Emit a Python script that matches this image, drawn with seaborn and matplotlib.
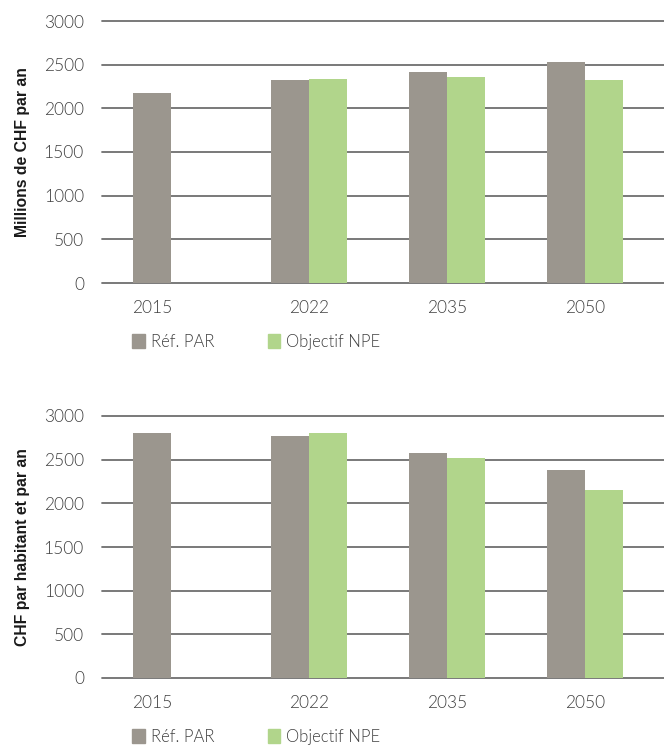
import pandas as pd
import seaborn as sns
import matplotlib.pyplot as plt
from matplotlib.patches import Patch

# Data
years = ["2015", "2022", "2035", "2050"]
series = ["Réf. PAR", "Objectif NPE"]
total_ref = [2180, 2320, 2420, 2530]
total_npe = [None, 2340, 2360, 2320]
per_cap_ref = [2800, 2770, 2580, 2380]
per_cap_npe = [None, 2800, 2520, 2150]
yticks = [0, 500, 1000, 1500, 2000, 2500, 3000]

palette = {"Réf. PAR": "#9b968e", "Objectif NPE": "#b1d58b"}
text_col = "#404040"

sns.set_theme(style="white")
plt.rcParams['font.family'] = ['Lato', 'DejaVu Sans']
plt.rcParams['font.weight'] = 300


def make_df(ref, npe):
    rows = []
    for y, r, n in zip(years, ref, npe):
        rows.append({"year": y, "serie": series[0], "value": r})
        rows.append({"year": y, "serie": series[1], "value": n})
    return pd.DataFrame(rows)


fig = plt.figure(figsize=(6.64, 7.45), dpi=100)
ax1 = fig.add_axes([102 / 664, 1 - 283 / 745, 562 / 664, 262 / 745])
ax2 = fig.add_axes([102 / 664, 1 - 678 / 745, 562 / 664, 262 / 745])

width = 0.55
for ax, ref, npe, ylabel in [
    (ax1, total_ref, total_npe, "Millions de CHF par an"),
    (ax2, per_cap_ref, per_cap_npe, "CHF par habitant et par an"),
]:
    df = make_df(ref, npe)
    sns.barplot(data=df, x="year", y="value", hue="serie", order=years,
                hue_order=series, palette=palette, width=width, saturation=1,
                linewidth=0, ax=ax, legend=False)
    ax.set_ylim(0, 3000)
    ax.set_xlim(-0.5, 3.57)
    ax.set_yticks(yticks)
    ax.set_yticklabels([str(t) for t in yticks])
    # 2015 has only one bar, its label sits under it
    ax.set_xticks([-width / 4, 1, 2, 3])
    ax.set_xticklabels(years)
    ax.grid(axis="y", color="#6e6e6e", linewidth=1.3)
    ax.set_axisbelow(True)
    for gl in ax.yaxis.get_gridlines():
        gl.set_clip_on(False)
    sns.despine(ax=ax, left=True, bottom=True)
    ax.tick_params(axis="both", length=0, labelsize=12.5, labelcolor=text_col)
    ax.tick_params(axis="x", pad=12)
    ax.tick_params(axis="y", pad=13)
    ax.set_xlabel("")
    ax.set_ylabel(ylabel, fontsize=11.3, fontweight="bold", color="#1a1a1a",
                  labelpad=10, family=["Liberation Sans", "DejaVu Sans"])
    handles = [Patch(color=palette[s]) for s in series]
    ax.legend(handles, series, ncol=2, frameon=False, loc="center left",
              bbox_to_anchor=(0.054, -0.225), borderaxespad=0, borderpad=0,
              handlelength=0.75, handleheight=0.9, handletextpad=0.35,
              columnspacing=3.2, fontsize=12, labelcolor=text_col)

fig.savefig("out.png", dpi=100)
